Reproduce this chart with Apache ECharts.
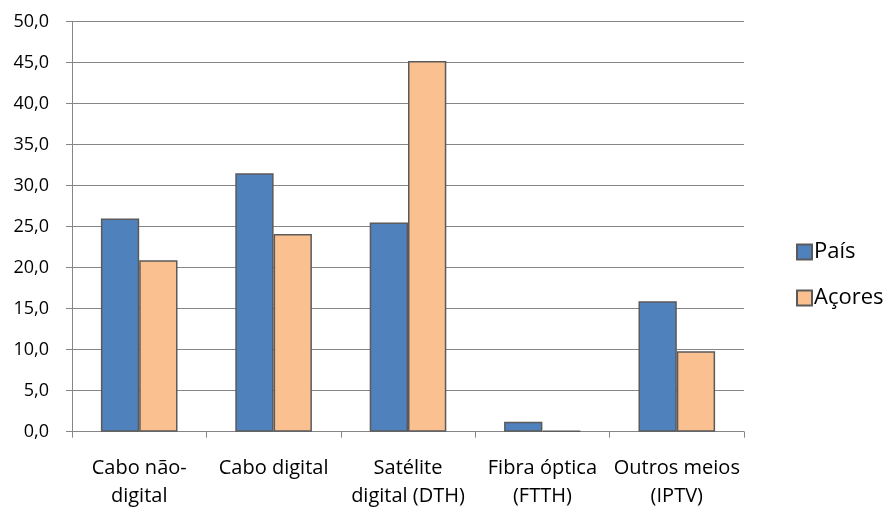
<!DOCTYPE html>
<html>
<head>
<meta charset="utf-8">
<script src="https://cdn.jsdelivr.net/npm/echarts@6/dist/echarts.min.js"></script>
<style>
  html, body { margin: 0; padding: 0; background: #ffffff; }
  #chart { width: 890px; height: 512px; }
</style>
</head>
<body>
<div id="chart"></div>
<script>
// Categories of TV reception and the share (%) for the country and for the Azores
const categories = ['Cabo não-\ndigital', 'Cabo digital', 'Satélite\ndigital (DTH)', 'Fibra óptica\n(FTTH)', 'Outros meios\n(IPTV)'];
const paisValues = [26.0, 31.5, 25.5, 1.2, 15.9];
const acoresValues = [20.9, 24.1, 45.2, 0.1, 9.8];
const seriesNames = ['País', 'Açores'];
const yTicks = { min: 0, max: 50, interval: 5 };

const FONT = '"Open Sans", sans-serif';
const AXIS_GREY = '#868686';
const BORDER = '#5a5a5a';

const chart = echarts.init(document.getElementById('chart'), null, { renderer: 'canvas' });

chart.setOption({
  backgroundColor: '#ffffff',
  animation: false,
  textStyle: { fontFamily: FONT, color: '#000' },
  grid: { left: 72, right: 146, top: 21.5, bottom: 80.3, containLabel: false },
  legend: {
    orient: 'vertical',
    left: 791,
    top: 236,
    itemGap: 24,
    itemWidth: 15,
    itemHeight: 15,
    icon: 'rect',
    textStyle: { fontFamily: FONT, fontSize: 22, color: '#000', padding: [0, 0, 0, -3] },
    data: seriesNames
  },
  xAxis: {
    type: 'category',
    data: categories,
    axisLine: { lineStyle: { color: AXIS_GREY, width: 1 } },
    axisTick: { show: true, length: 6, alignWithLabel: false, lineStyle: { color: AXIS_GREY } },
    axisLabel: {
      interval: 0,
      margin: 23,
      fontFamily: FONT,
      fontSize: 20,
      lineHeight: 28,
      color: '#000',
      align: 'center'
    },
    splitLine: { show: false }
  },
  yAxis: {
    type: 'value',
    min: yTicks.min,
    max: yTicks.max,
    interval: yTicks.interval,
    axisLine: { show: true, lineStyle: { color: AXIS_GREY, width: 1 } },
    axisTick: { show: true, length: 6, lineStyle: { color: AXIS_GREY } },
    axisLabel: {
      margin: 23,
      fontFamily: FONT,
      fontSize: 18,
      color: '#000',
      formatter: v => v.toFixed(1).replace('.', ',')
    },
    splitLine: { show: true, lineStyle: { color: AXIS_GREY, width: 1 } }
  },
  series: [
    {
      name: seriesNames[0],
      type: 'bar',
      data: paisValues,
      barGap: '0%',
      barCategoryGap: '43%',
      itemStyle: { color: '#4F81BD', borderColor: BORDER, borderWidth: 1.5 }
    },
    {
      name: seriesNames[1],
      type: 'bar',
      data: acoresValues,
      barGap: '0%',
      barCategoryGap: '43%',
      itemStyle: { color: '#FAC090', borderColor: BORDER, borderWidth: 1.5 }
    }
  ]
});
</script>
</body>
</html>
